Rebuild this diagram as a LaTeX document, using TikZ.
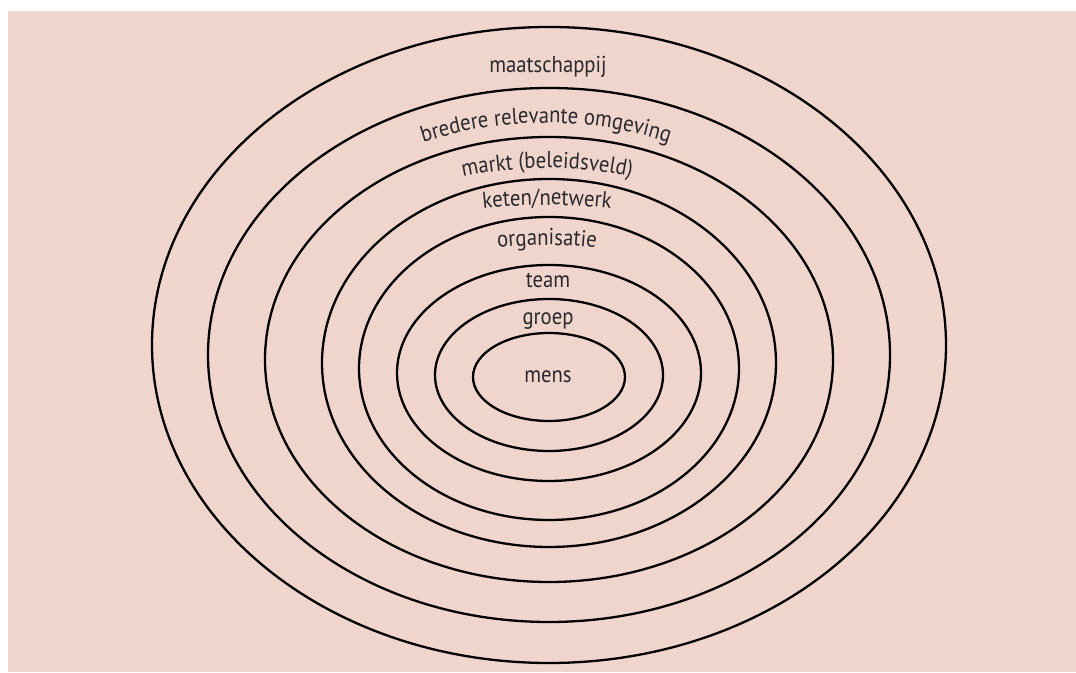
\documentclass[tikz,border=0pt]{standalone}
\usepackage{fontspec}
\setmainfont{PT Sans}
\newfontfamily\lblfam[FakeStretch=0.9]{PT Sans}
\usetikzlibrary{shapes.geometric,decorations.text}
\definecolor{bgpink}{RGB}{240,213,205}
\definecolor{txtgray}{RGB}{40,40,45}
\newcommand{\lblfont}{\lblfam\fontsize{23}{27}\selectfont}
\tikzset{
  ring/.style={draw=black, line width=2.3pt, ellipse, inner sep=0pt, fill=none},
  lbl/.style={font=\lblfont, text=txtgray, anchor=base, inner sep=0pt},
  arclbl/.style={decorate, decoration={text along path, text align=center,
     text color=txtgray, text={|\lblfont|#1}}}
}
\begin{document}
\begin{tikzpicture}[x=1pt,y=1pt]
\useasboundingbox (0,0) rectangle (1076,672);
\fill[bgpink] (8,0) rectangle (1076,661);
% rings (outer to inner)
\node[ring, minimum width=794pt, minimum height=636pt] (e1) at (549,327) {};
\node[ring, minimum width=682pt, minimum height=534pt] (e2) at (549,317) {};
\node[ring, minimum width=568pt, minimum height=445pt] (e3) at (549,312.5) {};
\node[ring, minimum width=454pt, minimum height=368pt] (e4) at (549,309) {};
\node[ring, minimum width=380pt, minimum height=303pt] (e5) at (549,303.5) {};
\node[ring, minimum width=304pt, minimum height=216pt] (e6) at (549,299) {};
\node[ring, minimum width=228pt, minimum height=152pt] (e7) at (549,297) {};
\node[ring, minimum width=152pt, minimum height=88pt] (e8) at (549,295) {};
% straight labels
\node[lbl] (lmaat) at (548,599) {maatschappij};
\node[lbl] (lteam) at (548,384) {team};
\node[lbl] (lgroep) at (548,347) {groep};
\node[lbl] (lmens) at (548,289) {mens};
% curved labels
\coordinate (cb) at (546,149);
\coordinate (cm) at (547,104);
\coordinate (ck) at (547,-133);
\coordinate (co) at (547,27);
\path[arclbl={bredere relevante omgeving}] ([shift={(122:400)}]cb) arc[start angle=122, end angle=58, radius=400];
\path[arclbl={markt (beleidsveld)}] ([shift={(115:400)}]cm) arc[start angle=115, end angle=65, radius=400];
\path[arclbl={keten/netwerk}] ([shift={(105:600)}]ck) arc[start angle=105, end angle=75, radius=600];
\path[arclbl={organisatie}] ([shift={(110:400)}]co) arc[start angle=110, end angle=70, radius=400];
\end{tikzpicture}
\end{document}
